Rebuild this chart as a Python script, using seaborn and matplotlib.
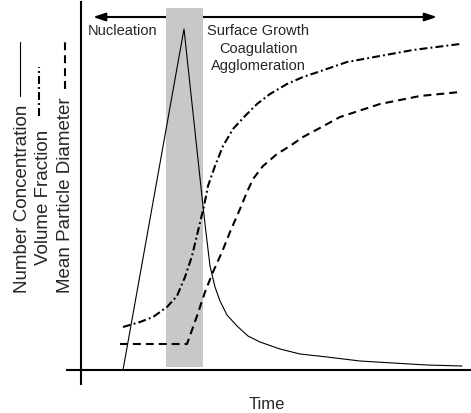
import matplotlib
matplotlib.use("Agg")
import matplotlib.pyplot as plt
import seaborn as sns

# ---------------- data (time units along x, relative magnitude along y) ----------------
nc_time = [42, 103, 122, 124, 126, 129, 134, 139, 146, 156, 167, 179, 199, 219, 246, 279, 312, 346, 381]
nc_value = [0, 341, 164, 146, 129, 104, 83, 69, 55, 44, 34, 28, 21, 16, 13, 9, 7, 5, 4]

vf_time = [42, 59, 72, 86, 96, 104, 111, 117, 123, 127, 134, 142, 152, 164, 176, 189, 206, 222, 237,
           266, 299, 332, 379]
vf_value = [43, 48, 53, 63, 74, 93, 114, 139, 164, 184, 204, 224, 241, 254, 266, 276, 286, 293, 298,
            308, 314, 320, 326]

mpd_time = [39, 106, 116, 124, 132, 141, 149, 159, 166, 172, 182, 196, 209, 222, 237, 259, 299, 339, 379]
mpd_value = [26, 26, 54, 78, 98, 118, 138, 161, 178, 191, 204, 216, 224, 233, 241, 253, 266, 274, 278]

band_time = [85, 122]       # shaded nucleation window
band_value = [3, 362]
arrow_time = [12, 356]
arrow_level = 353

series_labels = ["Number Concentration", "Volume Fraction", "Mean Particle Diameter"]
stage_left = "Nucleation"
stage_right = ["Surface Growth", "Coagulation", "Agglomeration"]
x_label = "Time"

# ---------------- styling ----------------
sns.set_style("white")
plt.rcParams["font.family"] = ["Liberation Sans", "DejaVu Sans"]

fig = plt.figure(figsize=(4.71, 4.14), dpi=100)
ax = fig.add_axes([0, 0, 1, 1])
ax.set_xlim(-81, 390)
ax.set_ylim(-43, 371)
ax.patch.set_alpha(0)

for s in ["top", "right"]:
    ax.spines[s].set_visible(False)
ax.spines["left"].set_position(("data", 0))
ax.spines["bottom"].set_position(("data", 0))
ax.spines["left"].set_bounds(-14, 368)
ax.spines["bottom"].set_bounds(-14, 390)
for s in ["left", "bottom"]:
    ax.spines[s].set_linewidth(1.5)
    ax.spines[s].set_color("black")
ax.set_xticks([])
ax.set_yticks([])

DASHED = (3.8, 2.4)
DASHDOT = (3.8, 1.5, 0.9, 1.5)

# arrow (behind the band)
ax.annotate("", xy=(arrow_time[1], arrow_level), xytext=(arrow_time[0], arrow_level),
            arrowprops=dict(arrowstyle="<|-|>,head_length=0.6,head_width=0.2",
                            color="black", lw=1.5, mutation_scale=12,
                            shrinkA=0, shrinkB=0), zorder=1)

# shaded band
ax.fill_between(band_time, band_value[0], band_value[1], color="#c8c8c8", lw=0, zorder=2)

# curves
sns.lineplot(x=nc_time, y=nc_value, ax=ax, color="black", linewidth=0.8, sort=False, zorder=3)
sns.lineplot(x=vf_time, y=vf_value, ax=ax, color="black", linewidth=1.5, sort=False, zorder=3)
ax.lines[-1].set_dashes(DASHDOT)
sns.lineplot(x=mpd_time, y=mpd_value, ax=ax, color="black", linewidth=1.5, sort=False, zorder=3)
ax.lines[-1].set_dashes(DASHED)

# stage labels
ax.text(7, 336, stage_left, fontsize=10.5, ha="left", va="baseline")
for i, t in enumerate(stage_right):
    ax.text(177, 336 - 17.5 * i, t, fontsize=10.5, ha="center", va="baseline")

ax.text(186, -38, x_label, fontsize=12, ha="center", va="baseline")

# rotated y-label block with line-style swatches
label_base_x = [-54, -33, -11]
label_start_y = [78, 106, 78]
swatch_x = [-61, -42, -16]
swatch_y = [(274, 328), (254, 303), (281, 329)]
swatch_lw = [0.8, 1.5, 1.5]
swatch_dash = [None, DASHDOT, DASHED]
for i, lab in enumerate(series_labels):
    ax.text(label_base_x[i], label_start_y[i], lab, fontsize=13.5, rotation=90,
            rotation_mode="anchor", ha="left", va="baseline", clip_on=False)
    ln, = ax.plot([swatch_x[i], swatch_x[i]], list(swatch_y[i]), color="black",
                  lw=swatch_lw[i], clip_on=False)
    if swatch_dash[i] is not None:
        ln.set_dashes(swatch_dash[i])

fig.savefig("out.png", dpi=100)
